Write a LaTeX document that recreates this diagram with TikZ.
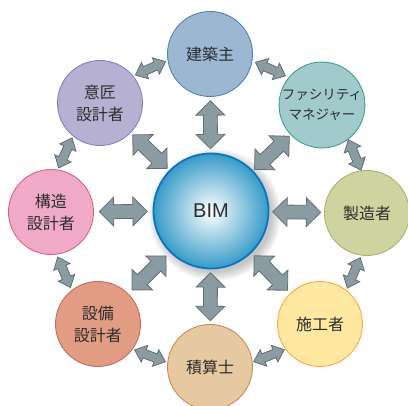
\documentclass[tikz,border=0pt]{standalone}
\usepackage{fontspec}
\setmainfont{Noto Sans CJK JP}
\newfontfamily\bimfont{Liberation Sans}
\usetikzlibrary{shapes.arrows}
\definecolor{arrfill}{RGB}{138,156,162}
\definecolor{arrdraw}{RGB}{98,110,116}
\definecolor{txt}{RGB}{45,45,45}
\definecolor{bimblue}{RGB}{55,155,200}
\definecolor{bimedge}{RGB}{10,115,195}
\definecolor{kfill}{RGB}{155,183,210}\definecolor{kdraw}{RGB}{85,130,180}
\definecolor{ffill}{RGB}{160,202,204}\definecolor{fdraw}{RGB}{70,155,140}
\definecolor{sfill}{RGB}{206,211,160}\definecolor{sdraw}{RGB}{170,180,110}
\definecolor{efill}{RGB}{255,233,160}\definecolor{edraw}{RGB}{245,170,70}
\definecolor{qfill}{RGB}{230,201,160}\definecolor{qdraw}{RGB}{200,140,90}
\definecolor{bfill}{RGB}{226,156,132}\definecolor{bdraw}{RGB}{190,110,90}
\definecolor{zfill}{RGB}{240,170,200}\definecolor{zdraw}{RGB}{210,100,135}
\definecolor{ifill}{RGB}{182,177,210}\definecolor{idraw}{RGB}{130,130,190}
\begin{document}
\begin{tikzpicture}[x=1pt,y=1pt,
  member/.style={circle, minimum size=85pt, inner sep=0pt, line width=0.9pt,
    text=txt, font=\fontsize{16}{22}\selectfont, align=center},
  inarrow/.style={double arrow, fill=arrfill, draw=arrdraw, line width=0.8pt,
    minimum height=48pt, minimum width=0pt, double arrow head extend=7.5pt,
    inner xsep=0pt, inner ysep=6.5pt, double arrow tip angle=90},
  outarrow/.style={double arrow, fill=arrfill, draw=arrdraw, line width=0.8pt,
    minimum height=33pt, minimum width=0pt, double arrow head extend=4.5pt,
    inner xsep=0pt, inner ysep=4pt, double arrow tip angle=80}]
\useasboundingbox (0,0) rectangle (408,406);
% soft shadow of centre circle
\foreach \r in {57,58.5,...,67}
  \fill[black, opacity=0.035] (215,191) circle (\r);
\node[circle, minimum size=115pt, inner sep=0pt, line width=1.8pt, draw=bimedge,
  shading=radial, inner color=white, outer color=bimblue,
  text=txt, font=\bimfont\fontsize{20}{24}\selectfont] (bim) at (211,195) {BIM};
\node[member, fill=kfill, draw=kdraw] (top) at (210,352) {建築主};
\node[member, fill=ffill, draw=fdraw, font=\fontsize{13.5}{20}\selectfont] (tr) at (322,301) {ファシリティ\\マネジャー};
\node[member, fill=sfill, draw=sdraw] (rt) at (367,193) {製造者};
\node[member, fill=efill, draw=edraw] (br) at (320,82) {施工者};
\node[member, fill=qfill, draw=qdraw] (bt) at (210,39) {積算士};
\node[member, fill=bfill, draw=bdraw] (bl) at (98,82) {設備\\設計者};
\node[member, fill=zfill, draw=zdraw] (lt) at (51,194) {構造\\設計者};
\node[member, fill=ifill, draw=idraw] (tl) at (100,303) {意匠\\設計者};
% arrows between centre and members
\foreach \m in {top,tr,rt,br,bt,bl,lt,tl}
  \path (bim) -- node[inarrow, sloped] {} (\m);
% arrows between neighbouring members
\path (top) to[bend left=12] node[outarrow, sloped] {} (tr);
\path (tr) to[bend left=12] node[outarrow, sloped] {} (rt);
\path (rt) to[bend left=12] node[outarrow, sloped] {} (br);
\path (br) to[bend left=12] node[outarrow, sloped] {} (bt);
\path (bt) to[bend left=12] node[outarrow, sloped] {} (bl);
\path (bl) to[bend left=12] node[outarrow, sloped] {} (lt);
\path (lt) to[bend left=12] node[outarrow, sloped] {} (tl);
\path (tl) to[bend left=12] node[outarrow, sloped] {} (top);
\end{tikzpicture}
\end{document}
